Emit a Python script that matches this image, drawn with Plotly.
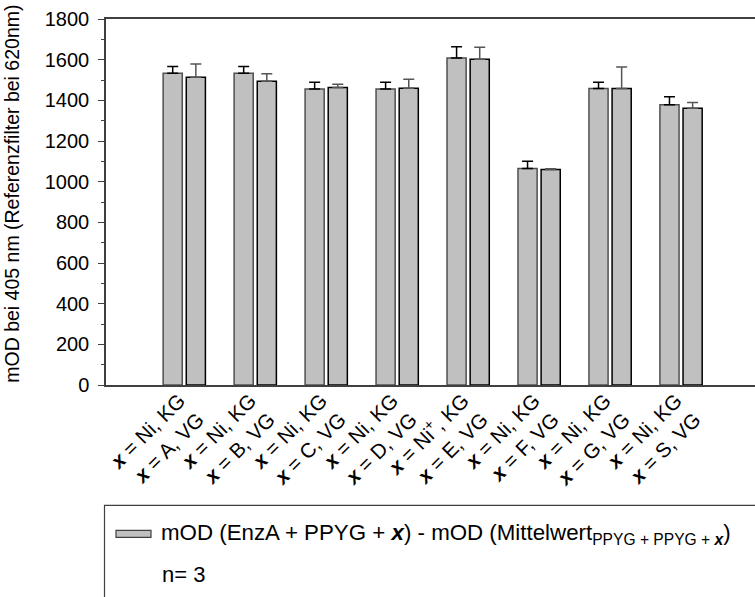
import plotly.graph_objects as go

groups = ["A", "B", "C", "D", "E", "F", "G", "S"]
kg_labels = ["Ni", "Ni", "Ni", "Ni", "Ni<sup>+</sup>", "Ni", "Ni", "Ni"]
kg_values = [1533, 1533, 1456, 1456, 1608, 1065, 1458, 1378]
kg_errors = [33, 33, 33, 33, 56, 35, 31, 40]
vg_values = [1514, 1494, 1463, 1460, 1602, 1060, 1458, 1361]
vg_errors = [65, 37, 16, 44, 59, 3, 106, 28]
y_ticks = [0, 200, 400, 600, 800, 1000, 1200, 1400, 1600, 1800]
y_title = "mOD bei 405 nm (Referenzfilter bei 620nm)"

X = "<b><i>x</i></b>"
tick_text = [f"{X} = {k}, KG<br>{X} = {g}, VG" for k, g in zip(kg_labels, groups)]
pos = list(range(len(groups)))

FONT = "Arial, Liberation Sans, sans-serif"
fig = go.Figure()
fig.add_trace(go.Bar(
    x=pos, y=kg_values, marker=dict(color="#c0c0c0", line=dict(color="#505050", width=1.5)),
    error_y=dict(type="data", array=kg_errors, symmetric=False, arrayminus=[0]*len(groups),
                 color="#000000", thickness=1.5, width=5.5),
    showlegend=False))
fig.add_trace(go.Bar(
    x=pos, y=vg_values, marker=dict(color="#c0c0c0", line=dict(color="#000000", width=1.5)),
    error_y=dict(type="data", array=vg_errors, symmetric=False, arrayminus=[0]*len(groups),
                 color="#555555", thickness=1.5, width=5.5),
    showlegend=False))

L, R, T, B = 106, 0, 19, 211.5
W, H = 755, 597
pw = W - L - R
ph = H - T - B

def px(xp):
    return (xp - L) / pw

def py(yp):
    return (H - B - yp) / ph

fig.update_layout(
    width=W, height=H,
    margin=dict(l=L, r=R, t=T, b=B, pad=0),
    paper_bgcolor="white", plot_bgcolor="white",
    barmode="group", bargap=0.348, bargroupgap=0.173,
    font=dict(family=FONT, size=19, color="black"),
    xaxis=dict(range=[-1.103, 8.042], tickvals=pos, ticktext=tick_text, tickangle=-45,
               showline=True, linecolor="#404040", linewidth=1.5, mirror=True,
               ticks="", showgrid=False, zeroline=False, tickfont=dict(size=20.5),
               ticklabelstandoff=-6, ticklabelshift=-5),
    yaxis=dict(range=[0, 1800], tickvals=y_ticks, ticks="outside", ticklen=6, tickwidth=1,
               tickcolor="#404040", showline=True, linecolor="#404040", linewidth=1.5,
               showgrid=False, zeroline=False, tickfont=dict(size=20), ticklabelstandoff=5,
               minor=dict(dtick=100, ticks="outside", ticklen=3, tickcolor="#404040")),
)

fig.add_annotation(xref="paper", yref="paper", x=px(12), y=py(194), xanchor="center", yanchor="middle",
                   textangle=-90, showarrow=False, font=dict(size=19.5), text=y_title)

# legend box
fig.add_shape(type="rect", xref="paper", yref="paper",
              x0=px(104.5), x1=px(762), y0=py(506), y1=py(602),
              line=dict(color="#404040", width=1.2), fillcolor="rgba(0,0,0,0)")
fig.add_shape(type="rect", xref="paper", yref="paper",
              x0=px(116), x1=px(151), y0=py(538), y1=py(531),
              line=dict(color="#404040", width=1.2), fillcolor="#c0c0c0")
fig.add_annotation(xref="paper", yref="paper", x=px(159), y=py(535), xanchor="left", yanchor="middle",
                   showarrow=False, font=dict(size=22.3),
                   text=f"mOD (EnzA + PPYG + {X}) - mOD (Mittelwert<sub>PPYG + PPYG + {X}</sub>)")
fig.add_annotation(xref="paper", yref="paper", x=px(160), y=py(575), xanchor="left", yanchor="middle",
                   showarrow=False, font=dict(size=22), text="n= 3")

fig.write_html("out.html")
